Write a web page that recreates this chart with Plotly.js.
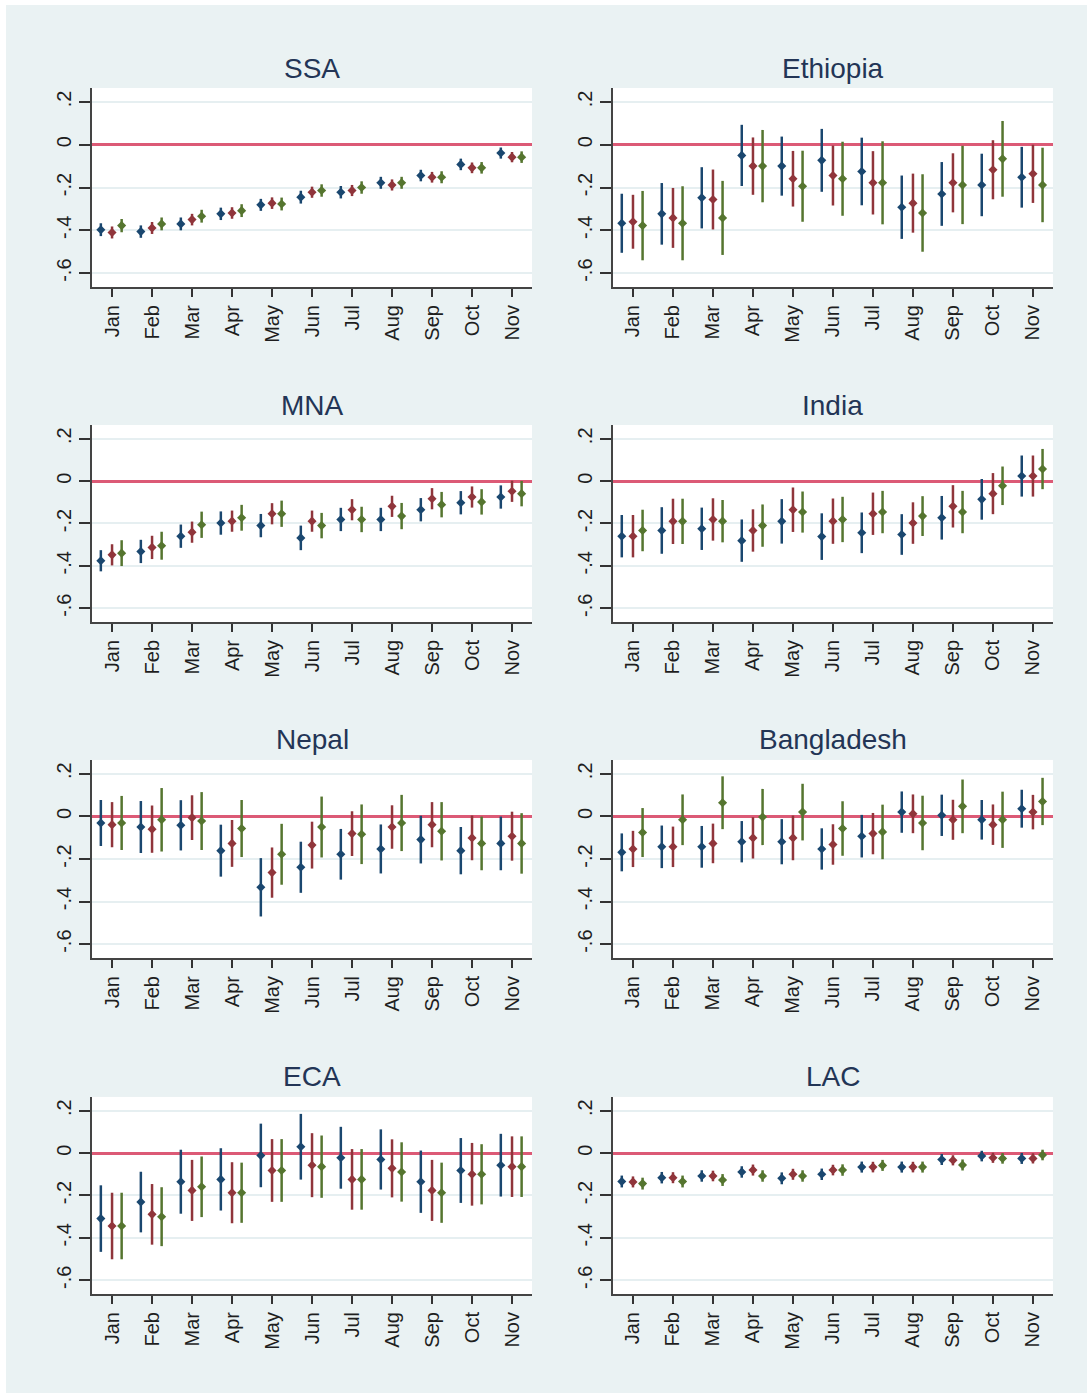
<!DOCTYPE html>
<html>
<head>
<meta charset="utf-8">
<script src="https://cdn.plot.ly/plotly-3.0.1.min.js"></script>
<style>
  html, body { margin: 0; padding: 0; background: #ffffff; }
  #chart { position: absolute; left: 6px; top: 5px; width: 1081px; height: 1388px; }
</style>
</head>
<body>
<div id="chart"></div>
<script>
// month categories and axis ticks
const monthLabels = ['Jan', 'Feb', 'Mar', 'Apr', 'May', 'Jun', 'Jul', 'Aug', 'Sep', 'Oct', 'Nov'];
const yTickVals = [0.2, 0, -0.2, -0.4, -0.6];
const yTickText = ['.2', '0', '-.2', '-.4', '-.6'];

// SSA
const ssaBlue = [-0.397, -0.406, -0.37, -0.323, -0.281, -0.245, -0.222, -0.178, -0.144, -0.092, -0.039];
const ssaRed = [-0.41, -0.389, -0.35, -0.319, -0.273, -0.222, -0.214, -0.188, -0.152, -0.108, -0.058];
const ssaGreen = [-0.378, -0.37, -0.334, -0.308, -0.277, -0.214, -0.2, -0.178, -0.152, -0.108, -0.058];
const ssaBlueCi = [0.03, 0.029, 0.03, 0.029, 0.028, 0.03, 0.029, 0.028, 0.027, 0.027, 0.026];
const ssaRedCi = [0.028, 0.028, 0.027, 0.027, 0.027, 0.026, 0.026, 0.026, 0.025, 0.025, 0.024];
const ssaGreenCi = [0.031, 0.03, 0.03, 0.03, 0.03, 0.029, 0.029, 0.028, 0.028, 0.027, 0.027];

// Ethiopia
const ethBlue = [-0.367, -0.323, -0.248, -0.05, -0.1, -0.073, -0.125, -0.292, -0.23, -0.188, -0.152];
const ethRed = [-0.36, -0.342, -0.256, -0.1, -0.159, -0.144, -0.178, -0.273, -0.178, -0.117, -0.136];
const ethGreen = [-0.378, -0.367, -0.342, -0.1, -0.194, -0.159, -0.178, -0.319, -0.188, -0.066, -0.188];
const ethBlueCi = [0.138, 0.144, 0.143, 0.143, 0.138, 0.147, 0.158, 0.148, 0.149, 0.146, 0.142];
const ethRedCi = [0.126, 0.14, 0.14, 0.134, 0.13, 0.14, 0.148, 0.138, 0.138, 0.138, 0.136];
const ethGreenCi = [0.162, 0.173, 0.173, 0.169, 0.166, 0.173, 0.194, 0.181, 0.183, 0.177, 0.174];

// MNA
const mnaBlue = [-0.376, -0.332, -0.26, -0.198, -0.21, -0.268, -0.181, -0.181, -0.135, -0.102, -0.075];
const mnaRed = [-0.348, -0.313, -0.241, -0.189, -0.154, -0.189, -0.135, -0.119, -0.083, -0.075, -0.048];
const mnaGreen = [-0.34, -0.305, -0.206, -0.173, -0.154, -0.21, -0.181, -0.165, -0.111, -0.098, -0.059];
const mnaBlueCi = [0.05, 0.055, 0.055, 0.055, 0.055, 0.058, 0.055, 0.055, 0.055, 0.055, 0.055];
const mnaRedCi = [0.05, 0.055, 0.05, 0.05, 0.05, 0.05, 0.05, 0.05, 0.05, 0.05, 0.05];
const mnaGreenCi = [0.061, 0.066, 0.062, 0.061, 0.062, 0.06, 0.06, 0.062, 0.06, 0.06, 0.06];

// India
const indBlue = [-0.26, -0.233, -0.225, -0.281, -0.19, -0.262, -0.244, -0.252, -0.173, -0.086, 0.024];
const indRed = [-0.26, -0.19, -0.181, -0.233, -0.135, -0.189, -0.154, -0.198, -0.119, -0.059, 0.024];
const indGreen = [-0.233, -0.19, -0.189, -0.21, -0.146, -0.181, -0.146, -0.165, -0.146, -0.022, 0.057];
const indBlueCi = [0.1, 0.11, 0.1, 0.1, 0.105, 0.11, 0.096, 0.096, 0.103, 0.096, 0.097];
const indRedCi = [0.1, 0.107, 0.1, 0.1, 0.105, 0.107, 0.1, 0.098, 0.1, 0.097, 0.097];
const indGreenCi = [0.098, 0.107, 0.1, 0.1, 0.097, 0.107, 0.1, 0.094, 0.1, 0.091, 0.095];

// Nepal
const nplBlue = [-0.031, -0.05, -0.042, -0.161, -0.333, -0.239, -0.178, -0.153, -0.109, -0.161, -0.127];
const nplRed = [-0.039, -0.06, -0.006, -0.127, -0.264, -0.135, -0.081, -0.05, -0.039, -0.101, -0.093];
const nplGreen = [-0.031, -0.016, -0.022, -0.057, -0.178, -0.05, -0.084, -0.031, -0.07, -0.127, -0.127];
const nplBlueCi = [0.108, 0.122, 0.118, 0.122, 0.137, 0.12, 0.119, 0.115, 0.112, 0.111, 0.126];
const nplRedCi = [0.106, 0.111, 0.105, 0.11, 0.118, 0.11, 0.105, 0.102, 0.106, 0.105, 0.115];
const nplGreenCi = [0.127, 0.149, 0.136, 0.134, 0.143, 0.143, 0.14, 0.132, 0.137, 0.126, 0.142];

// Bangladesh
const bgdBlue = [-0.169, -0.143, -0.143, -0.119, -0.119, -0.153, -0.093, 0.02, 0.005, -0.016, 0.036];
const bgdRed = [-0.153, -0.143, -0.127, -0.101, -0.101, -0.132, -0.081, 0.012, -0.016, -0.039, 0.02];
const bgdGreen = [-0.076, -0.016, 0.064, -0.003, 0.02, -0.057, -0.073, -0.031, 0.047, -0.016, 0.07];
const bgdBlueCi = [0.089, 0.1, 0.098, 0.097, 0.106, 0.097, 0.1, 0.097, 0.097, 0.093, 0.089];
const bgdRedCi = [0.085, 0.095, 0.093, 0.097, 0.105, 0.095, 0.097, 0.091, 0.094, 0.095, 0.081];
const bgdGreenCi = [0.115, 0.119, 0.124, 0.132, 0.133, 0.128, 0.128, 0.128, 0.126, 0.132, 0.111];

// ECA
const ecaBlue = [-0.309, -0.231, -0.135, -0.124, -0.011, 0.03, -0.022, -0.03, -0.135, -0.082, -0.057];
const ecaRed = [-0.344, -0.289, -0.176, -0.187, -0.082, -0.057, -0.124, -0.072, -0.176, -0.1, -0.064];
const ecaGreen = [-0.344, -0.3, -0.159, -0.187, -0.082, -0.064, -0.124, -0.089, -0.187, -0.1, -0.064];
const ecaBlueCi = [0.157, 0.143, 0.151, 0.147, 0.15, 0.155, 0.146, 0.142, 0.147, 0.153, 0.148];
const ecaRedCi = [0.157, 0.143, 0.144, 0.144, 0.148, 0.151, 0.143, 0.137, 0.144, 0.148, 0.143];
const ecaGreenCi = [0.157, 0.139, 0.143, 0.142, 0.148, 0.147, 0.143, 0.14, 0.142, 0.142, 0.143];

// LAC
const lacBlue = [-0.134, -0.116, -0.108, -0.089, -0.119, -0.1, -0.066, -0.066, -0.03, -0.014, -0.025];
const lacRed = [-0.136, -0.116, -0.108, -0.08, -0.1, -0.08, -0.066, -0.066, -0.034, -0.022, -0.025];
const lacGreen = [-0.144, -0.134, -0.127, -0.108, -0.108, -0.08, -0.058, -0.066, -0.056, -0.025, -0.009];
const lacBlueCi = [0.028, 0.027, 0.027, 0.027, 0.028, 0.027, 0.026, 0.026, 0.026, 0.025, 0.026];
const lacRedCi = [0.026, 0.026, 0.025, 0.026, 0.026, 0.025, 0.025, 0.025, 0.024, 0.024, 0.024];
const lacGreenCi = [0.028, 0.028, 0.028, 0.027, 0.027, 0.027, 0.026, 0.026, 0.026, 0.025, 0.025];

const panels = [
  { title: 'SSA', est: [ssaBlue, ssaRed, ssaGreen], ci: [ssaBlueCi, ssaRedCi, ssaGreenCi] },
  { title: 'Ethiopia', est: [ethBlue, ethRed, ethGreen], ci: [ethBlueCi, ethRedCi, ethGreenCi] },
  { title: 'MNA', est: [mnaBlue, mnaRed, mnaGreen], ci: [mnaBlueCi, mnaRedCi, mnaGreenCi] },
  { title: 'India', est: [indBlue, indRed, indGreen], ci: [indBlueCi, indRedCi, indGreenCi] },
  { title: 'Nepal', est: [nplBlue, nplRed, nplGreen], ci: [nplBlueCi, nplRedCi, nplGreenCi] },
  { title: 'Bangladesh', est: [bgdBlue, bgdRed, bgdGreen], ci: [bgdBlueCi, bgdRedCi, bgdGreenCi] },
  { title: 'ECA', est: [ecaBlue, ecaRed, ecaGreen], ci: [ecaBlueCi, ecaRedCi, ecaGreenCi] },
  { title: 'LAC', est: [lacBlue, lacRed, lacGreen], ci: [lacBlueCi, lacRedCi, lacGreenCi] },
];

// style
const colors = ['#1a476f', '#90353b', '#55752f'];
const offsets = [-0.28, 0, 0.24];
const colDomains = [[0.0796, 0.4866], [0.5615, 0.9685]];
const rowDomains = [[0.7968, 0.9402], [0.5555, 0.6974], [0.3134, 0.4561], [0.0713, 0.2133]];
const fontFamily = '"Liberation Sans", Arial, sans-serif';

const data = [];
const layout = {
  width: 1081,
  height: 1388,
  margin: { l: 0, r: 0, t: 0, b: 0 },
  paper_bgcolor: '#eaf2f3',
  plot_bgcolor: '#ffffff',
  showlegend: false,
  annotations: [],
};

panels.forEach((p, k) => {
  const n = k + 1;
  const xa = n === 1 ? 'x' : 'x' + n;
  const ya = n === 1 ? 'y' : 'y' + n;
  const row = Math.floor(k / 2);
  const col = k % 2;

  p.est.forEach((vals, s) => {
    data.push({
      type: 'scatter',
      mode: 'markers',
      x: vals.map((_, i) => i + 1 + offsets[s]),
      y: vals,
      xaxis: xa,
      yaxis: ya,
      marker: { symbol: 'diamond', size: 7, color: colors[s] },
      error_y: {
        type: 'data',
        array: p.ci[s],
        visible: true,
        color: colors[s],
        thickness: 2.5,
        width: 0,
      },
      hoverinfo: 'y',
    });
  });

  layout['xaxis' + (n === 1 ? '' : n)] = {
    domain: colDomains[col],
    anchor: ya,
    range: [0.5, 11.5],
    tickvals: monthLabels.map((_, i) => i + 1),
    ticktext: monthLabels,
    tickangle: -90,
    ticks: 'outside',
    ticklen: 8,
    tickwidth: 2,
    tickcolor: '#333333',
    showline: true,
    linecolor: '#444444',
    linewidth: 2,
    showgrid: false,
    zeroline: false,
    tickfont: { family: fontFamily, size: 20, color: '#1e1e1e' },
    fixedrange: true,
  };

  layout['yaxis' + (n === 1 ? '' : n)] = {
    domain: rowDomains[row],
    anchor: xa,
    range: [-0.665, 0.265],
    tickvals: yTickVals,
    ticktext: yTickText,
    tickangle: -90,
    ticks: 'outside',
    ticklen: 11,
    tickwidth: 2,
    tickcolor: '#333333',
    showline: true,
    linecolor: '#444444',
    linewidth: 2,
    showgrid: true,
    gridcolor: '#e6eff1',
    gridwidth: 2,
    zeroline: true,
    zerolinecolor: '#dc5a76',
    zerolinewidth: 3,
    tickfont: { family: fontFamily, size: 20, color: '#1e1e1e' },
    fixedrange: true,
  };

  layout.annotations.push({
    text: p.title,
    xref: xa + ' domain',
    yref: ya + ' domain',
    x: 0.5,
    y: 1,
    yanchor: 'middle',
    yshift: 20,
    showarrow: false,
    font: { family: fontFamily, size: 28, color: '#233556' },
  });
});

Plotly.newPlot('chart', data, layout, { displayModeBar: false, staticPlot: true });
</script>
</body>
</html>
